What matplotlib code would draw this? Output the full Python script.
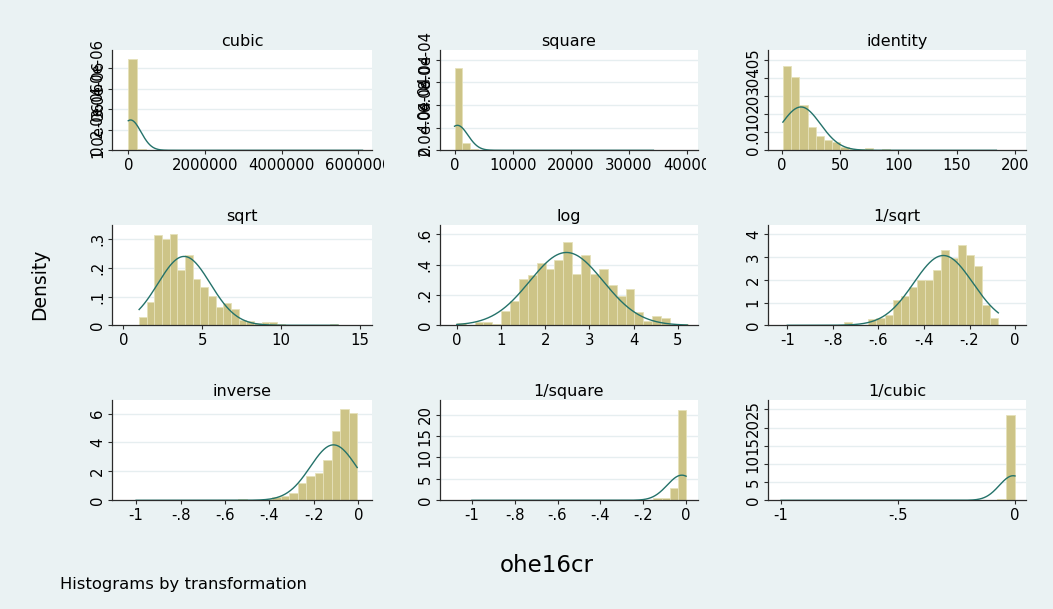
import numpy as np
import matplotlib
matplotlib.use("Agg")
import matplotlib.pyplot as plt
from matplotlib.transforms import Bbox

# ---- panel definitions -------------------------------------------------
titles = ["cubic", "square", "identity",
          "sqrt", "log", "1/sqrt",
          "inverse", "1/square", "1/cubic"]

# histogram bins: first edge and width (26 bins per panel)
bin_start = [1, 1, 1, 1, 0, -1, -1, -1, -1]
bin_width = [235000, 1320, 7.05, 0.485, 0.2008, 0.0356, 0.03825, 0.0385, 0.0385]

dens_cubic = [4.42e-6, 5.0e-8, 1.2e-8, 6e-9, 4e-9, 0, 0, 0, 0, 0, 0, 0, 0,
              0, 0, 0, 0, 0, 0, 0, 0, 0, 0, 0, 0, 4e-9]
dens_square = [7.24e-4, 6.8e-5, 1.2e-5, 5e-6, 3e-6, 2e-6, 1e-6, 1e-6, 0, 0, 0, 0, 0,
               0, 0, 0, 0, 0, 0, 0, 0, 0, 0, 0, 1e-6, 0]
dens_identity = [0.0465, 0.0403, 0.0248, 0.0130, 0.0081, 0.0057, 0.0048, 0.0020,
                 0.0007, 0.0007, 0.0011, 0.0002, 0.0005, 0, 0, 0, 0, 0, 0, 0,
                 0, 0, 0, 0, 0, 0.0003]
dens_sqrt = [0.029, 0.083, 0.315, 0.302, 0.319, 0.193, 0.246, 0.162, 0.134, 0.102,
             0.063, 0.077, 0.057, 0.019, 0.014, 0.008, 0.012, 0.013, 0.003, 0,
             0, 0, 0, 0, 0, 0.004]
dens_log = [0.018, 0.0, 0.022, 0.024, 0.011, 0.095, 0.161, 0.305, 0.329, 0.408,
            0.369, 0.428, 0.552, 0.340, 0.466, 0.340, 0.371, 0.265, 0.192, 0.238,
            0.086, 0.031, 0.060, 0.049, 0.0, 0.011]
dens_invsqrt = [0.03, 0.03, 0, 0, 0, 0.02, 0.02, 0.16, 0.0, 0.03, 0.26, 0.31, 0.47,
                1.12, 1.31, 1.69, 2.01, 2.01, 2.43, 3.32, 2.96, 3.53, 3.09, 2.59,
                0.88, 0.31]
dens_inverse = [0.02, 0, 0.02, 0, 0.02, 0, 0, 0.02, 0, 0, 0, 0, 0.11, 0, 0.03,
                0.07, 0.25, 0.30, 0.50, 1.22, 1.70, 1.89, 2.80, 4.78, 6.33, 6.03]
dens_invsquare = [0.03, 0, 0.02, 0, 0, 0, 0.02, 0, 0, 0, 0, 0, 0, 0, 0, 0, 0, 0,
                  0, 0, 0.05, 0.15, 0.46, 0.54, 2.85, 21.1]
dens_invcubic = [0.02, 0, 0, 0, 0, 0.02, 0, 0, 0, 0, 0, 0, 0, 0, 0, 0, 0, 0,
                 0, 0, 0, 0, 0.03, 0.06, 0.28, 23.4]
densities = [dens_cubic, dens_square, dens_identity, dens_sqrt, dens_log,
             dens_invsqrt, dens_inverse, dens_invsquare, dens_invcubic]

# fitted normal: mean, sd and the data range it is drawn over
norm_mean = [60000, 500, 16.5, 3.85, 2.48, -0.315, -0.112, -0.020, -0.008]
norm_sd = [271000, 1810, 16.7, 1.66, 0.83, 0.130, 0.104, 0.068, 0.059]
data_min = [1, 1, 1, 1, 0, -1, -1, -1, -1]
data_max = [6.11e6, 34225, 184, 13.6, 5.21, -0.0735, -0.0054, -0.00003, -1.6e-7]

# axis ticks and labels
xticks = [[0, 2e6, 4e6, 6e6], [0, 10000, 20000, 30000, 40000], [0, 50, 100, 150, 200],
          [0, 5, 10, 15], [0, 1, 2, 3, 4, 5], [-1, -.8, -.6, -.4, -.2, 0],
          [-1, -.8, -.6, -.4, -.2, 0], [-1, -.8, -.6, -.4, -.2, 0], [-1, -.5, 0]]
xticklabels = [["0", "2000000", "4000000", "6000000"],
               ["0", "10000", "20000", "30000", "40000"],
               ["0", "50", "100", "150", "200"],
               ["0", "5", "10", "15"],
               ["0", "1", "2", "3", "4", "5"],
               ["-1", "-.8", "-.6", "-.4", "-.2", "0"],
               ["-1", "-.8", "-.6", "-.4", "-.2", "0"],
               ["-1", "-.8", "-.6", "-.4", "-.2", "0"],
               ["-1", "-.5", "0"]]
yticks = [[0, 1e-6, 2e-6, 3e-6, 4e-6], [0, 2e-4, 4e-4, 6e-4, 8e-4],
          [0, .01, .02, .03, .04, .05], [0, .1, .2, .3], [0, .2, .4, .6],
          [0, 1, 2, 3, 4], [0, 2, 4, 6], [0, 5, 10, 15, 20], [0, 5, 10, 15, 20, 25]]
yticklabels = [["0", "1.0e-06", "2.0e-06", "3.0e-06", "4.0e-06"],
               ["0", "2.0e-04", "4.0e-04", "6.0e-04", "8.0e-04"],
               ["0", ".01", ".02", ".03", ".04", ".05"],
               ["0", ".1", ".2", ".3"],
               ["0", ".2", ".4", ".6"],
               ["0", "1", "2", "3", "4"],
               ["0", "2", "4", "6"],
               ["0", "5", "10", "15", "20"],
               ["0", "5", "10", "15", "20", "25"]]
xlims = [(-417000, 6.35e6), (-2586, 41954), (-12, 209.4), (-0.70, 15.74),
         (-0.39, 5.46), (-1.086, 0.048), (-1.107, 0.060), (-1.151, 0.057),
         (-1.057, 0.047)]
ytops = [4.87e-6, 8.85e-4, 0.0553, 0.350, 0.662, 4.41, 6.94, 23.4, 27.6]

# ---- styling -----------------------------------------------------------
BG = "#EAF2F3"
BAR = "#CDC487"
BAR_EDGE = "#E6E1BA"
LINE = "#24726A"
GRID = "#E6EEF0"
AXIS = "#2B2B2B"

W, H = 1053, 609
fig = plt.figure(figsize=(W / 100, H / 100), dpi=100, facecolor=BG)

col_left = [112.3, 439.5, 767.7]
col_width = [259.4, 258.8, 258.3]
col_clip = [384, 706, W]
row_top = [50, 225, 400]
row_height = 100.3

for i, title in enumerate(titles):
    r, c = divmod(i, 3)
    left, top = col_left[c], row_top[r]
    ax = fig.add_axes([left / W, 1 - (top + row_height) / H,
                       col_width[c] / W, row_height / H])
    ax.set_facecolor("white")

    dens = np.array(densities[i])
    edges = bin_start[i] + bin_width[i] * np.arange(len(dens))
    ax.bar(edges, dens, width=bin_width[i], align="edge", color=BAR,
           edgecolor=BAR_EDGE, linewidth=0.6, zorder=2)

    xs = np.linspace(data_min[i], data_max[i], 600)
    pdf = np.exp(-0.5 * ((xs - norm_mean[i]) / norm_sd[i]) ** 2) / (norm_sd[i] * np.sqrt(2 * np.pi))
    ax.plot(xs, pdf, color=LINE, lw=1.0, zorder=3)

    ax.set_xlim(*xlims[i])
    ax.set_ylim(0, ytops[i])
    ax.set_xticks(xticks[i])
    ax.set_xticklabels(xticklabels[i])
    ax.set_yticks(yticks[i])
    ax.set_yticklabels(yticklabels[i], rotation=90, va="center", ha="right")

    for yv in yticks[i][1:]:
        ax.axhline(yv, color=GRID, lw=1.0, zorder=1)

    for side in ("top", "right"):
        ax.spines[side].set_visible(False)
    for side in ("left", "bottom"):
        ax.spines[side].set_color(AXIS)
        ax.spines[side].set_linewidth(0.9)
    ax.tick_params(axis="both", direction="out", length=3, width=0.8,
                   color=AXIS, labelsize=10.7, labelcolor="black")
    ax.tick_params(axis="x", pad=2.5)
    ax.tick_params(axis="y", pad=2)

    ax.set_title(title, fontsize=11.5, pad=3)

    clip = Bbox([[0, 0], [col_clip[c], H]])
    for lab in ax.get_xticklabels():
        lab.set_clip_on(True)
        lab.set_clip_box(clip)

fig.text(40 / W, 1 - 284 / H, "Density", rotation=90, ha="center", va="center",
         fontsize=13.5)
fig.text(547 / W, 1 - 566 / H, "ohe16cr", ha="center", va="center", fontsize=16.5)
fig.text(60 / W, 1 - 584 / H, "Histograms by transformation", ha="left",
         va="center", fontsize=11.8)

fig.savefig("out.png", dpi=100, facecolor=BG)
